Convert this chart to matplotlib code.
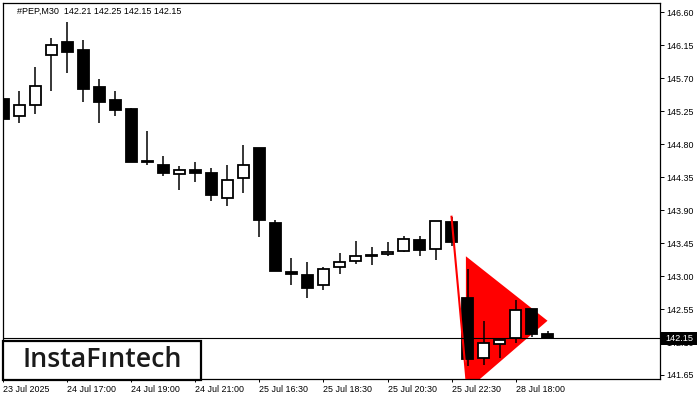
import matplotlib
matplotlib.use('Agg')
import matplotlib.pyplot as plt
from matplotlib.patches import Rectangle, Polygon
import numpy as np

# ---------------- data ----------------
title_text = "#PEP,M30  142.21 142.25 142.15 142.15"
opens = [145.42, 145.18, 145.33, 146.02, 146.19, 146.08, 145.58, 145.40, 145.28, 144.57,
         144.52, 144.39, 144.45, 144.41, 144.07, 144.34, 144.75, 143.73, 143.06, 143.02,
         142.88, 143.13, 143.21, 143.29, 143.30, 143.34, 143.49, 143.37, 143.74, 142.70,
         141.88, 142.07, 142.15, 142.55, 142.21]
highs = [145.58, 145.52, 145.85, 146.25, 146.47, 146.22, 145.69, 145.53, 145.30, 144.98,
         144.64, 144.50, 144.55, 144.48, 144.52, 144.79, 144.75, 143.77, 143.24, 143.19,
         143.13, 143.31, 143.48, 143.39, 143.47, 143.54, 143.54, 143.75, 143.81, 143.09,
         142.38, 142.13, 142.68, 142.55, 142.25]
lows = [145.08, 145.09, 145.21, 145.53, 145.77, 145.38, 145.09, 145.18, 144.55, 144.52,
        144.36, 144.17, 144.29, 144.03, 143.96, 144.14, 143.53, 143.07, 142.88, 142.70,
        142.81, 143.03, 143.16, 143.15, 143.28, 143.33, 143.27, 143.22, 143.41, 141.77,
        141.79, 141.88, 142.08, 142.17, 142.15]
closes = [145.14, 145.34, 145.59, 146.16, 146.06, 145.56, 145.38, 145.26, 144.56, 144.56,
          144.40, 144.45, 144.41, 144.10, 144.31, 144.51, 143.76, 143.07, 143.03, 142.84,
          143.10, 143.19, 143.28, 143.27, 143.33, 143.51, 143.35, 143.75, 143.46, 141.87,
          142.09, 142.13, 142.53, 142.21, 142.15]
xtick_idx = [0, 4, 8, 12, 16, 20, 24, 28, 32]
xtick_labels = ["23 Jul 2025", "24 Jul 17:00", "24 Jul 19:00", "24 Jul 21:00",
                "25 Jul 16:30", "25 Jul 18:30", "25 Jul 20:30", "25 Jul 22:30",
                "28 Jul 18:00"]
ytick_vals = [146.60, 146.15, 145.70, 145.25, 144.80, 144.35, 143.90, 143.45,
              143.00, 142.55, 142.10, 141.65]
current_price = 142.15
pole_x = [28.0, 29.0]
pole_y = [143.81, 141.43]
pennant_x = [28.9, 34.0, 28.9]
pennant_y = [143.27, 142.39, 141.43]
logo_text = "InstaF\u0131ntech"

# ---------------- layout ----------------
W, H = 700, 400
fig = plt.figure(figsize=(W / 100, H / 100), dpi=100)
fig.patch.set_facecolor('white')
ax_l, ax_r, ax_t, ax_b = 3, 660, 3, 379
ax = fig.add_axes([ax_l / W, (H - ax_b) / H, (ax_r - ax_l) / W, (ax_b - ax_t) / H])
ax.set_facecolor('white')

ax.set_xlim(-0.03, 41.03)
ax.set_ylim(141.595, 146.727)

tick_font = dict(family='Liberation Sans', size=6.4)

# pennant triangle
ax.add_patch(Polygon(list(zip(pennant_x, pennant_y)), closed=True,
                     facecolor='#ff0000', edgecolor='none', zorder=2))

# candles
bw = 0.67
for i, (o, h, l, c) in enumerate(zip(opens, highs, lows, closes)):
    ax.plot([i, i], [l, h], color='black', lw=1.1, zorder=3, solid_capstyle='butt')
    bottom = min(o, c)
    height = abs(c - o)
    fc = 'white' if c > o else 'black'
    ax.add_patch(Rectangle((i - bw / 2, bottom), bw, height, facecolor=fc,
                           edgecolor='black', lw=1.3, zorder=4))

# flag pole
ax.plot(pole_x, pole_y, color='#ff0000', lw=1.5, zorder=5)

# current price line
ax.axhline(current_price, color='black', lw=0.8, zorder=6)

# axes styling
for s in ax.spines.values():
    s.set_color('black')
    s.set_linewidth(0.9)

ax.yaxis.tick_right()
ax.set_yticks(ytick_vals)
ax.set_yticklabels([f"{v:.2f}" for v in ytick_vals], **tick_font)
ax.tick_params(axis='y', direction='out', length=3, width=0.7, pad=1.5, colors='black')

ax.set_xticks(xtick_idx)
ax.set_xticklabels(xtick_labels, **tick_font)
for lab in ax.get_xticklabels():
    lab.set_ha('left')
ax.tick_params(axis='x', direction='out', length=2.5, width=0.7, pad=1.5, colors='black')

# title
fig.text(17 / W, (H - 11) / H, title_text, family='Liberation Sans', size=6.5,
         color='black', va='center', ha='left')

# current price label (covers the 142.10 tick label as in the original)
fig.add_artist(Rectangle((661 / W, (H - 345) / H), 36 / W, 13 / H,
                         transform=fig.transFigure, facecolor='black',
                         edgecolor='none', zorder=20))
fig.text(679 / W, (H - 338.5) / H, f"{current_price:.2f}", family='Liberation Sans',
         size=6.6, color='white', va='center', ha='center', zorder=21)

# logo
fig.add_artist(Rectangle((3 / W, (H - 380) / H), 198 / W, 39 / H,
                         transform=fig.transFigure, facecolor='white',
                         edgecolor='black', lw=1.6, zorder=20))
logo = fig.text(102 / W, (H - 367) / H, logo_text, family='Open Sans', weight='semibold',
                size=18, color='#1a1a1a', va='baseline', ha='center', zorder=21)
fig.canvas.draw()
bb = logo.get_window_extent()
logo.set_fontsize(18 * 159.0 / bb.width)

fig.savefig('out.png', dpi=100, facecolor='white')
